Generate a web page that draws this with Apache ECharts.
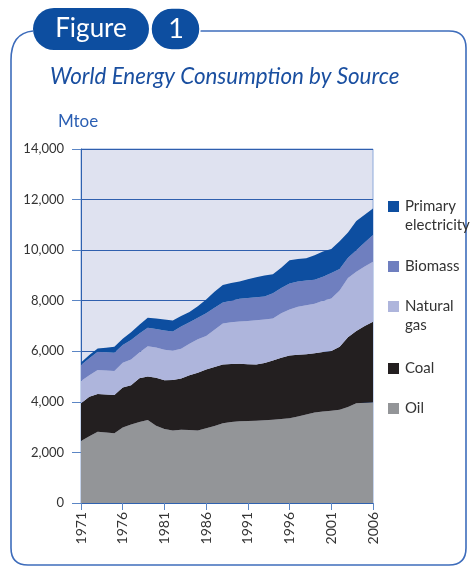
<!DOCTYPE html>
<html>
<head>
<meta charset="utf-8">
<style>
  html, body { margin: 0; padding: 0; background: #ffffff; }
  #chart { width: 475px; height: 566px; }
</style>
<script src="https://cdn.jsdelivr.net/npm/echarts@6/dist/echarts.min.js"></script>
</head>
<body>
<div id="chart"></div>
<script>
// Years on the horizontal axis
var years = [];
for (var y = 1971; y <= 2006; y++) years.push(String(y));

// Consumption by source, Mtoe
var oil = [2450, 2640, 2820, 2790, 2755, 2990, 3100, 3200, 3280, 3060, 2930, 2870,
           2900, 2890, 2870, 2960, 3050, 3150, 3200, 3230, 3240, 3250, 3270, 3290,
           3320, 3350, 3420, 3500, 3580, 3620, 3650, 3690, 3800, 3940, 3960, 3980];
var coal = [1490, 1560, 1490, 1500, 1515, 1580, 1560, 1730, 1720, 1890, 1920, 1990,
            2020, 2160, 2280, 2320, 2330, 2330, 2300, 2280, 2250, 2230, 2270, 2350,
            2420, 2480, 2440, 2380, 2340, 2350, 2360, 2490, 2760, 2860, 3040, 3190];
var naturalGas = [885, 850, 950, 950, 950, 980, 1020, 1020, 1200, 1200, 1210, 1160,
                  1180, 1250, 1330, 1320, 1470, 1620, 1650, 1670, 1710, 1750, 1720, 1660,
                  1760, 1820, 1900, 1940, 1960, 2030, 2080, 2220, 2340, 2350, 2350, 2370];
var biomass = [635, 670, 720, 720, 725, 700, 770, 750, 730, 730, 760, 760,
               880, 850, 850, 900, 870, 830, 850, 900, 910, 910, 910, 1000,
               1000, 1030, 1000, 980, 950, 950, 1010, 850, 800, 850, 950, 1060];
var primaryElectricity = [100, 130, 130, 180, 235, 250, 300, 350, 400, 420, 440, 440,
                          420, 400, 450, 550, 630, 690, 700, 680, 740, 790, 830, 750,
                          800, 920, 890, 880, 970, 1000, 950, 1100, 1000, 1150, 1100, 1050];

// Series, bottom of the stack first
var seriesNames = ['Oil', 'Coal', 'Natural gas', 'Biomass', 'Primary electricity'];
var seriesData = [oil, coal, naturalGas, biomass, primaryElectricity];
var seriesColors = ['#939598', '#231f20', '#aeb5dc', '#6f7fbf', '#0d4ea0'];

// Legend entries, top to bottom
var legendLabels = ['Primary\nelectricity', 'Biomass', 'Natural\ngas', 'Coal', 'Oil'];
var legendColors = ['#0d4ea0', '#6f7fbf', '#aeb5dc', '#231f20', '#939598'];
var legendTops = [201, 261, 301, 363, 403];

var FONT = 'Lato, "Open Sans", sans-serif';
var frameBlue = '#3d6cbb';
var deepBlue = '#0d4ea0';

var chart = echarts.init(document.getElementById('chart'), null, { renderer: 'canvas' });

var frameStyle = { fill: null, stroke: frameBlue, lineWidth: 1.6 };
function seg(x1, y1, x2, y2) {
  return { type: 'line', shape: { x1: x1, y1: y1, x2: x2, y2: y2 }, style: frameStyle, z: 1 };
}
function corner(x1, y1, cx, cy, x2, y2) {
  return { type: 'bezierCurve', shape: { x1: x1, y1: y1, cpx1: cx, cpy1: cy, x2: x2, y2: y2 },
           style: frameStyle, z: 1 };
}

var graphics = [
  // outer frame
  corner(33, 31, 11, 33, 11, 60),
  seg(11, 60, 11, 548),
  corner(11, 548, 11, 565, 28, 565),
  seg(28, 565, 449, 565),
  corner(449, 565, 466, 565, 466, 548),
  seg(466, 548, 466, 48),
  corner(466, 48, 466, 31, 449, 31),
  seg(449, 31, 200, 31),
  // "Figure" badge
  { type: 'rect', shape: { x: 33, y: 8, width: 116, height: 42, r: 21 },
    style: { fill: deepBlue }, z: 5 },
  { type: 'rect', shape: { x: 151, y: 8, width: 49, height: 42, r: 21 },
    style: { fill: deepBlue, stroke: '#ffffff', lineWidth: 1.5 }, z: 6 },
  { type: 'text', x: 91, y: 29,
    style: { text: 'Figure', fill: '#ffffff', font: '26px ' + FONT, align: 'center', verticalAlign: 'middle' }, z: 7 },
  { type: 'text', x: 176, y: 29,
    style: { text: '1', fill: '#ffffff', font: '27px ' + FONT, align: 'center', verticalAlign: 'middle' }, z: 7 },
  // title and unit
  { type: 'text', x: 50, y: 77,
    style: { text: 'World Energy Consumption by Source', fill: '#1a4fa0',
             font: 'italic 22.4px ' + FONT, align: 'left', verticalAlign: 'middle' }, z: 5 },
  { type: 'text', x: 58, y: 122,
    style: { text: 'Mtoe', fill: '#2b5fb3', font: '17px ' + FONT, align: 'left', verticalAlign: 'middle' }, z: 5 }
];

// legend swatches and labels
legendLabels.forEach(function (label, i) {
  graphics.push({ type: 'rect', shape: { x: 388, y: legendTops[i], width: 11, height: 11 },
                  style: { fill: legendColors[i] }, z: 5 });
  graphics.push({ type: 'text', x: 405, y: legendTops[i] - 4,
                  style: { text: label, fill: '#333333', font: '15px ' + FONT,
                           lineHeight: 19, align: 'left', verticalAlign: 'top' }, z: 5 });
});

var option = {
  animation: false,
  backgroundColor: '#ffffff',
  grid: {
    left: 81, right: 102, top: 149, bottom: 63,
    show: true, backgroundColor: '#dfe2f0', borderColor: '#8eaadb', borderWidth: 1
  },
  xAxis: {
    type: 'category',
    data: years,
    boundaryGap: false,
    axisLine: { show: true, lineStyle: { color: '#2f62b0', width: 1 } },
    axisTick: { show: true, interval: 4, length: 7, lineStyle: { color: '#5b86c5' } },
    axisLabel: { interval: 4, rotate: 90, margin: 9, color: '#333333', fontSize: 14, fontFamily: FONT },
    splitLine: { show: false }
  },
  yAxis: {
    type: 'value',
    min: 0, max: 14000, interval: 2000,
    axisLine: { show: true, lineStyle: { color: '#2f62b0', width: 1 } },
    axisTick: { show: true, length: 9, lineStyle: { color: '#5b86c5' } },
    axisLabel: {
      margin: 17, color: '#333333', fontSize: 13, fontFamily: FONT,
      formatter: function (v) { return v.toLocaleString('en-US'); }
    },
    splitLine: { show: true, lineStyle: { color: '#2f5fae', width: 1 } }
  },
  series: seriesNames.map(function (name, i) {
    return {
      name: name,
      type: 'line',
      stack: 'total',
      data: seriesData[i],
      symbol: 'none',
      smooth: false,
      lineStyle: { width: 0 },
      areaStyle: { color: seriesColors[i], opacity: 1 },
      itemStyle: { color: seriesColors[i] },
      z: 2
    };
  }),
  graphic: graphics
};

chart.setOption(option);
</script>
</body>
</html>
